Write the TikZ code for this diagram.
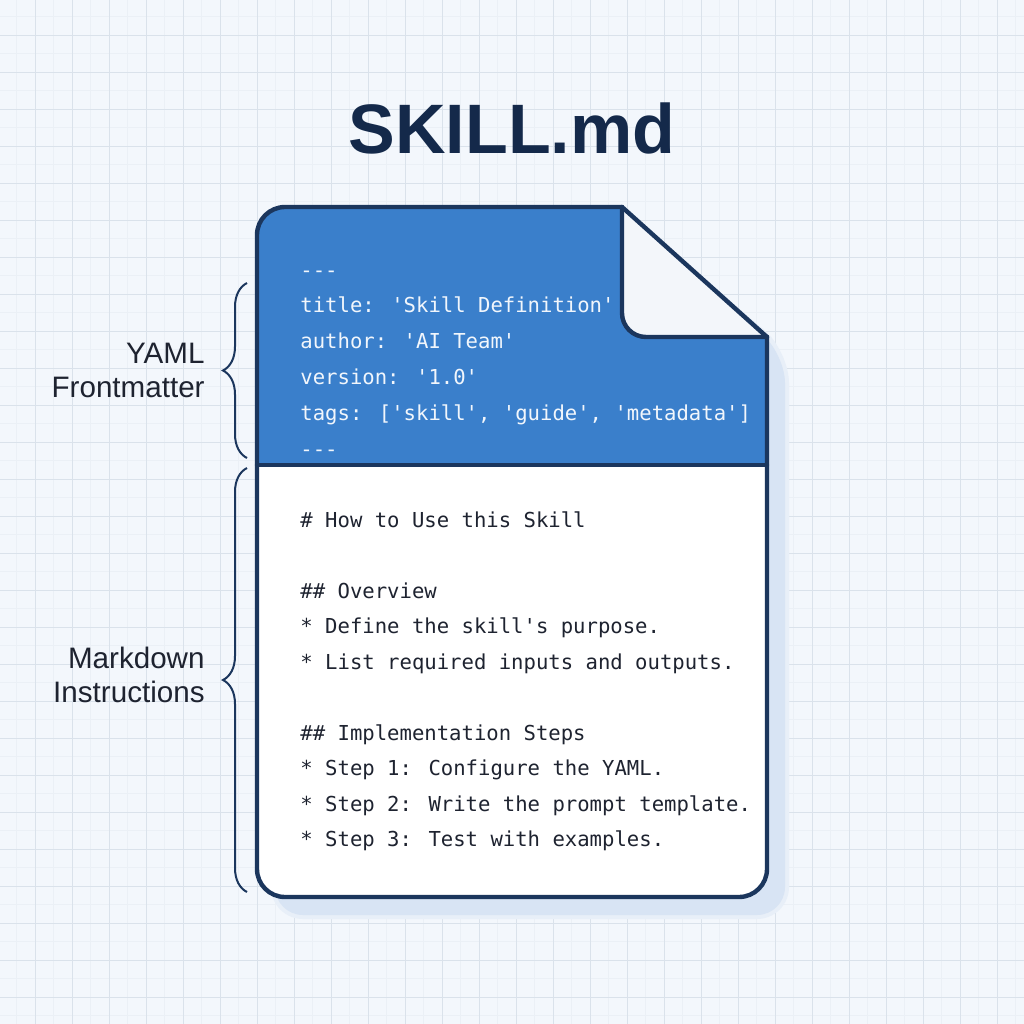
\documentclass[tikz,border=0pt]{standalone}
\usepackage{fontspec}
\setmainfont{Liberation Sans}
\newfontfamily\codefont{DejaVu Sans Mono}[Ligatures=TeXOff]
\usetikzlibrary{positioning, decorations.pathreplacing}
\definecolor{DocNavy}{HTML}{1B365D}
\definecolor{HeadBlue}{HTML}{3A7FCB}
\definecolor{PaperBg}{HTML}{F3F7FC}
\definecolor{GridMajor}{HTML}{DAE2EB}
\definecolor{GridMinor}{HTML}{EBF0F6}
\definecolor{ShadowBlue}{HTML}{D8E4F4}
\definecolor{FoldGray}{HTML}{F3F6FA}
\definecolor{TitleNavy}{HTML}{14294A}
\definecolor{InkDark}{HTML}{1E2330}
\definecolor{HeadInk}{HTML}{F1F6FC}

\begin{document}
\begin{tikzpicture}[x=0.5pt, y=-0.5pt,
    doc/.style={draw=DocNavy, line width=2.2pt, line cap=round, line join=round},
    codeline/.style={anchor=base west, inner sep=0pt, font=\codefont\fontsize{10.3}{12}\selectfont},
    sidelabel/.style={anchor=east, align=right, inner sep=0pt, text=InkDark, font=\fontsize{14.8}{17}\selectfont},
    bracket/.style={draw=DocNavy, line width=1pt, decorate, decoration={brace, amplitude=12pt}}
]

\useasboundingbox (0,0) rectangle (1024,1024);
\fill[PaperBg] (0,0) rectangle (1024,1024);
\begin{scope}[shift={(-2,-2)}]
\draw[GridMinor, line width=0.35pt, step=9.25pt] (0,0) grid (1030,1030);
\draw[GridMajor, line width=0.5pt, step=18.5pt] (0,0) grid (1030,1030);
\end{scope}

\node[font=\bfseries\fontsize{35}{40}\selectfont, text=TitleNavy] (title) at (512,128) {SKILL.md};

\fill[ShadowBlue!60, rounded corners=16pt] (636,221) -- (271,221) -- (271,919) -- (789,919) -- (789,351) -- cycle;
\fill[ShadowBlue, rounded corners=14pt] (640,225) -- (275,225) -- (275,915) -- (785,915) -- (785,355) -- cycle;

\begin{scope}
\clip[rounded corners=14pt] (257,207) rectangle (767,897);
\fill[white] (257,465) rectangle (767,897);
\fill[HeadBlue] (257,207) -- (622,207) -- (767,337) -- (767,465) -- (257,465) -- cycle;
\end{scope}

\fill[FoldGray, rounded corners=12pt] (767,337) -- (622,337) -- (622,207);
\draw[doc, rounded corners=12pt] (767,337) -- (622,337) -- (622,207);
\draw[doc, rounded corners=14pt] (622,207) -- (257,207) -- (257,897) -- (767,897) -- (767,337);
\draw[doc] (622,207) -- (767,337);
\draw[doc] (257,465) -- (767,465);

\foreach \ln/\row [count=\i] in {---/0, title: 'Skill Definition'/1, author: 'AI Team'/2,
    version: '1.0'/3, {tags: ['skill', 'guide', 'metadata']}/4, ---/5}
  \node[codeline, text=HeadInk] (fm\i) at (300,277+35.8*\row) {\ln};

\foreach \ln/\row [count=\i] in {\#\ How to Use this Skill/0, \#\#\ Overview/2,
    * Define the skill's purpose./3, * List required inputs and outputs./4,
    \#\#\ Implementation Steps/6, * Step 1: Configure the YAML./7,
    * Step 2: Write the prompt template./8, * Step 3: Test with examples./9}
  \node[codeline, text=InkDark] (md\i) at (300,527+35.5*\row) {\ln};

\coordinate (fmtop) at (247,283);
\coordinate (fmbot) at (247,458);
\coordinate (mdtop) at (247,468);
\coordinate (mdbot) at (247,892);
\draw[bracket] (fmbot) -- (fmtop);
\draw[bracket] (mdbot) -- (mdtop);

\node[sidelabel] (fmlabel) at (205,370) {YAML\\Frontmatter};
\node[sidelabel] (mdlabel) at (205,675) {Markdown\\Instructions};

\end{tikzpicture}
\end{document}
